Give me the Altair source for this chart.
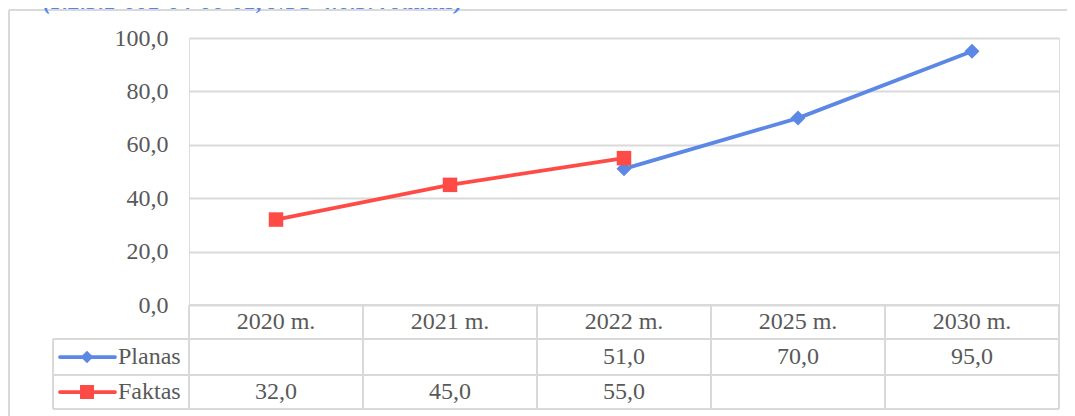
import altair as alt
import pandas as pd

# ---- data ----
years = ["2020 m.", "2021 m.", "2022 m.", "2025 m.", "2030 m."]
planas = [None, None, 51.0, 70.0, 95.0]
faktas = [32.0, 45.0, 55.0, None, None]
series_names = ["Planas", "Faktas"]
y_ticks = [0, 20, 40, 60, 80, 100]
title_text = "(P.2.3.1-001-04-06-01, NPP 4.6.3. rodiklis)"

# ---- styles ----
BLUE = "#5B88E4"
RED = "#FF4B45"
GRID = "#D9D9D9"
TXT = "#595959"
FONT = "Liberation Serif, Times New Roman, serif"
FS = 24

W, H = 870, 267

df = pd.DataFrame({
    "year": years * 2,
    "series": ["Planas"] * len(years) + ["Faktas"] * len(years),
    "value": planas + faktas,
})
df = df.dropna().reset_index(drop=True)
df["label"] = df["value"].map(lambda v: f"{v:.1f}".replace(".", ","))
df_plan = df[df.series == "Planas"]
df_fakt = df[df.series == "Faktas"]
df_years = pd.DataFrame({"year": years})
df_leg = pd.DataFrame({"series": series_names})

x_scale = alt.Scale(type="band", domain=years, paddingInner=0, paddingOuter=0)
y_scale = alt.Scale(domain=[0, 100])

X = alt.X("year:N", scale=x_scale, axis=None)
y_axis = alt.Axis(
    values=y_ticks,
    labelExpr="replace(format(datum.value, '.1f'), '.', ',')",
    grid=True, gridColor=GRID, gridWidth=2,
    domain=False, ticks=False, labelPadding=21,
    labelFont=FONT, labelFontSize=FS, labelColor=TXT, title=None,
)
Y = alt.Y("value:Q", scale=y_scale, axis=y_axis)

plan_line = alt.Chart(df_plan).mark_line(color=BLUE, strokeWidth=3.75, strokeCap="round").encode(x=X, y=Y)
plan_pts = alt.Chart(df_plan).mark_point(shape="diamond", filled=True, color=BLUE, size=225, opacity=1).encode(x=X, y=Y)
fakt_line = alt.Chart(df_fakt).mark_line(color=RED, strokeWidth=3.75, strokeCap="round").encode(x=X, y=Y)
fakt_pts = alt.Chart(df_fakt).mark_point(shape="square", filled=True, color=RED, size=210, opacity=1).encode(x=X, y=Y)

# ---- data table under the chart ----
ROW_TOP, ROW1, ROW2, ROW_BOT = 267, 301, 337, 371
LEFT = -136

rule_style = dict(color=GRID, strokeWidth=2)
col_lines = alt.Chart(df_years).mark_rule(**rule_style).encode(
    x=alt.X("year:N", scale=x_scale, axis=None, bandPosition=0),
    y=alt.value(ROW_TOP), y2=alt.value(ROW_BOT),
)
right_line = alt.Chart(df_years).mark_rule(**rule_style).encode(
    x=alt.value(W), y=alt.value(ROW_TOP), y2=alt.value(ROW_BOT)
)
left_line = alt.Chart(df_years).mark_rule(**rule_style).encode(
    x=alt.value(LEFT), y=alt.value(ROW1), y2=alt.value(ROW_BOT)
)
h_top = alt.Chart(df_years).mark_rule(**rule_style).encode(
    x=alt.value(0), x2=alt.value(W), y=alt.value(ROW_TOP)
)
h_rows = [
    alt.Chart(df_years).mark_rule(**rule_style).encode(
        x=alt.value(LEFT), x2=alt.value(W), y=alt.value(yy)
    )
    for yy in (ROW1, ROW2, ROW_BOT)
]

text_style = dict(font=FONT, fontSize=FS, color=TXT, baseline="middle")
header = alt.Chart(df_years).mark_text(align="center", **text_style).encode(
    x=X, y=alt.value((ROW_TOP + ROW1) / 2), text="year:N"
)
plan_vals = alt.Chart(df_plan).mark_text(align="center", **text_style).encode(
    x=X, y=alt.value((ROW1 + ROW2) / 2), text="label:N"
)
fakt_vals = alt.Chart(df_fakt).mark_text(align="center", **text_style).encode(
    x=X, y=alt.value((ROW2 + ROW_BOT) / 2), text="label:N"
)

def legend_cell(name, color, shape, size, yy):
    d = df_leg[df_leg.series == name]
    ln = alt.Chart(d).mark_rule(color=color, strokeWidth=3.75, strokeCap="round").encode(
        x=alt.value(-129), x2=alt.value(-74), y=alt.value(yy)
    )
    pt = alt.Chart(d).mark_point(shape=shape, filled=True, color=color, size=size, opacity=1).encode(
        x=alt.value(-102), y=alt.value(yy)
    )
    tx = alt.Chart(d).mark_text(align="left", **text_style).encode(
        x=alt.value(-71), y=alt.value(yy), text="series:N"
    )
    return [ln, pt, tx]

leg_plan = legend_cell("Planas", BLUE, "diamond", 160, (ROW1 + ROW2) / 2)
leg_fakt = legend_cell("Faktas", RED, "square", 196, (ROW2 + ROW_BOT) / 2)

# ---- outer frame and clipped title ----
frame_left = alt.Chart(df_years).mark_rule(color=GRID, strokeWidth=1.5).encode(
    x=alt.value(-180), y=alt.value(-28), y2=alt.value(380)
)
frame_top = alt.Chart(df_years).mark_rule(color=GRID, strokeWidth=1.5).encode(
    x=alt.value(-180), x2=alt.value(890), y=alt.value(-28)
)
title = alt.Chart(pd.DataFrame({"t": [title_text]})).mark_text(
    align="right", baseline="alphabetic", font=FONT, fontSize=24,
    fontStyle="italic", fontWeight="bold", color="#5585E6",
).encode(x=alt.value(274), y=alt.value(-29), text="t:N")

chart = alt.layer(
    h_top, *h_rows, col_lines, right_line, left_line,
    header, plan_vals, fakt_vals,
    *leg_plan, *leg_fakt,
    plan_line, plan_pts, fakt_line, fakt_pts,
    frame_left, frame_top, title,
).properties(
    width=W, height=H,
    autosize=alt.AutoSizeParams(type="none"),
    padding={"left": 181, "top": 30, "right": 8, "bottom": 111},
).configure_view(strokeWidth=0).configure(background="white")

chart.save("out.html", embed_options={"renderer": "svg", "actions": False})
